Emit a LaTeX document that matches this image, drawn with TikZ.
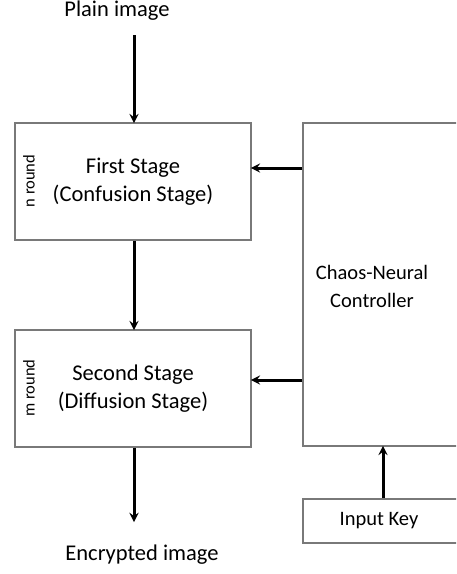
\documentclass[tikz,border=0pt]{standalone}
\usepackage{fontspec}
\setmainfont{Carlito}
\usetikzlibrary{calc}

\begin{document}
\begin{tikzpicture}[x=1pt, y=-1pt, >=stealth, font=\fontsize{22.5}{28}\selectfont,
    stagebox/.style={draw=gray!95!black, line width=1.8pt, minimum width=236pt,
      minimum height=117pt, align=center, inner sep=0pt},
    flow/.style={->, line width=3pt, black, shorten >=-1pt},
    roundlbl/.style={rotate=90, font=\fontsize{16.5}{18}\selectfont}]
  \clip (0,0) rectangle (456,574);
  \useasboundingbox (0,0) rectangle (456,574);

  % ----- left column -----
  \node (plain) at (117,11) {Plain image};
  \coordinate (plainout) at (134,35);
  \node[stagebox] (first) at (133,181.5) {First Stage\\(Confusion Stage)};
  \node[stagebox] (second) at (133,388.5) {Second Stage\\(Diffusion Stage)};
  \node (enc) at (142,555) {Encrypted image};
  \coordinate (encin) at (134,521);
  \node[roundlbl] (nrnd) at (29,181) {n round};
  \node[roundlbl] (mrnd) at (29,388) {m round};

  % ----- right column -----
  \node[stagebox, minimum width=160pt, minimum height=323pt] (ctrl) at (383,284.5) {};
  \node[align=center, font=\fontsize{20.5}{28}\selectfont] (ctrltxt) at (372,286)
    {Chaos-Neural\\Controller};
  \node[stagebox, minimum width=160pt, minimum height=44pt,
    font=\fontsize{20.5}{22}\selectfont] (key) at (383,521) {\hspace*{-8pt}Input Key};

  % ----- arrows -----
  \draw[flow] (plainout) -- (first.north -| plainout);
  \draw[flow] (first.south -| plainout) -- (second.north -| plainout);
  \draw[flow] (second.south -| plainout) -- (encin);
  \draw[flow] ([yshift=13.5pt]ctrl.west |- first.east) -- ([yshift=13.5pt]first.east);
  \draw[flow] ([yshift=8.5pt]ctrl.west |- second.east) -- ([yshift=8.5pt]second.east);
  \draw[flow] (key.north) -- (ctrl.south);
\end{tikzpicture}
\end{document}
